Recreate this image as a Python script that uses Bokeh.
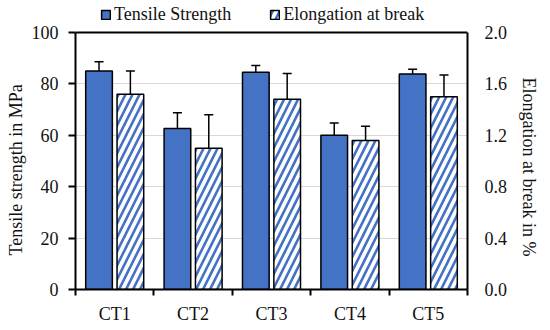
import numpy as np
from bokeh.plotting import figure
from bokeh.models import (Range1d, LinearAxis, FixedTicker, ColumnDataSource, Whisker,
                          TeeHead, Legend, LegendItem, NumeralTickFormatter, Grid, Span, Title)
from bokeh.embed import file_html
from bokeh.resources import INLINE

categories = ["CT1", "CT2", "CT3", "CT4", "CT5"]
tensile = [85.0, 62.6, 84.5, 60.0, 83.9]
tensile_err = [3.6, 6.2, 2.7, 4.8, 1.8]
elong = [1.52, 1.10, 1.48, 1.16, 1.50]
elong_err = [0.18, 0.26, 0.20, 0.11, 0.17]
left_ticks = [0, 20, 40, 60, 80, 100]
right_ticks = [0, 0.4, 0.8, 1.2, 1.6, 2.0]

FONT = "Liberation Serif"
BLUE = "#4472C4"
TXT = "#111111"

# plot box is 257 px tall; extra headroom above it (32 px) holds the legend
AXIS_H = 257
HEAD = 32
ext = (AXIS_H + HEAD) / AXIS_H

x = np.arange(len(categories)) + 0.5
x_t = x - 0.2
x_e = x + 0.2

p = figure(frame_width=392, frame_height=AXIS_H + HEAD, output_backend="svg", toolbar_location=None,
           x_range=Range1d(0, len(categories)), y_range=Range1d(0, left_ticks[-1] * ext),
           min_border_left=75, min_border_right=83, min_border_top=0, min_border_bottom=41,
           x_axis_type=None, y_axis_type=None)
p.extra_y_ranges = {"pct": Range1d(0, right_ticks[-1] * ext)}
p.outline_line_color = None
p.background_fill_color = "white"
p.border_fill_color = "white"

xaxis = LinearAxis(ticker=FixedTicker(ticks=list(x), minor_ticks=list(range(len(categories) + 1))),
                   major_label_overrides={float(v): c for v, c in zip(x, categories)})
xaxis.major_tick_line_color = None
xaxis.major_tick_in = 0
xaxis.major_tick_out = 6
xaxis.minor_tick_in = 0
xaxis.minor_tick_out = 6
xaxis.minor_tick_line_color = "black"
xaxis.minor_tick_line_width = 2
xaxis.axis_line_color = "black"
xaxis.axis_line_width = 2
xaxis.major_label_standoff = 8
xaxis.major_label_text_font = FONT
xaxis.major_label_text_font_size = "18px"
xaxis.major_label_text_color = TXT
p.add_layout(xaxis, "below")

yaxis = LinearAxis(ticker=FixedTicker(ticks=left_ticks), bounds=(left_ticks[0], left_ticks[-1]))
yaxis.major_tick_in = 0
yaxis.major_tick_out = 7
yaxis.major_tick_line_width = 2
yaxis.minor_tick_line_color = None
yaxis.axis_line_width = 2
yaxis.major_label_standoff = 10
yaxis.major_label_text_font = FONT
yaxis.major_label_text_font_size = "18px"
yaxis.major_label_text_color = TXT
p.add_layout(yaxis, "left")

raxis = LinearAxis(y_range_name="pct", ticker=FixedTicker(ticks=right_ticks),
                   bounds=(right_ticks[0], right_ticks[-1]),
                   formatter=NumeralTickFormatter(format="0.0"))
raxis.major_tick_line_color = None
raxis.major_tick_out = 0
raxis.major_tick_in = 0
raxis.minor_tick_line_color = None
raxis.axis_line_color = "black"
raxis.axis_line_width = 2
raxis.major_label_standoff = 17
raxis.major_label_text_font = FONT
raxis.major_label_text_font_size = "18px"
raxis.major_label_text_color = TXT
p.add_layout(raxis, "right")

ltitle = Title(text="Tensile strength in MPa", align="left", offset=34,
               text_font=FONT, text_font_size="18px", text_font_style="normal",
               text_color=TXT, standoff=6)
p.add_layout(ltitle, "left")
rtitle = Title(text="Elongation at break in %", align="left", offset=77,
               text_font=FONT, text_font_size="18px", text_font_style="normal",
               text_color=TXT, standoff=16)
p.add_layout(rtitle, "right")

grid = Grid(dimension=1, ticker=FixedTicker(ticks=left_ticks[1:-1]),
            grid_line_color="#d9d9d9", grid_line_width=1)
p.add_layout(grid, "center")
p.add_layout(Span(location=left_ticks[-1], dimension="width", line_color="black", line_width=2))

src_t = ColumnDataSource(dict(x=x_t, top=tensile,
                              up=[a + b for a, b in zip(tensile, tensile_err)],
                              lo=[a - b for a, b in zip(tensile, tensile_err)]))
src_e = ColumnDataSource(dict(x=x_e, top=elong,
                              up=[a + b for a, b in zip(elong, elong_err)],
                              lo=[a - b for a, b in zip(elong, elong_err)]))

r1 = p.vbar(x="x", top="top", bottom=0, width=0.34, source=src_t,
            fill_color=BLUE, line_color="black", line_width=1.5)
r2 = p.vbar(x="x", top="top", bottom=0, width=0.34, source=src_e, y_range_name="pct",
            fill_color="white", line_color="black", line_width=1.5,
            hatch_pattern="right_diagonal_line", hatch_color=BLUE,
            hatch_scale=14, hatch_weight=2.6)

for src, rn in ((src_t, "default"), (src_e, "pct")):
    w = Whisker(base="x", upper="up", lower="lo", source=src, dimension="height",
                y_range_name=rn, line_color="black", line_width=1.5,
                upper_head=TeeHead(size=9, line_color="black", line_width=1.5),
                lower_head=TeeHead(size=9, line_color="black", line_width=1.5))
    p.add_layout(w)

legend = Legend(items=[LegendItem(label="Tensile Strength", renderers=[r1]),
                       LegendItem(label="Elongation at break", renderers=[r2])],
                orientation="horizontal", location=(25, AXIS_H + 7),
                label_text_font=FONT, label_text_font_size="18px", label_text_color=TXT,
                glyph_width=11, glyph_height=11, label_height=16, label_standoff=3,
                spacing=38, padding=0, margin=0,
                border_line_color=None, background_fill_alpha=0)
p.add_layout(legend, "center")

open("out.html", "w").write(file_html(p, INLINE))
